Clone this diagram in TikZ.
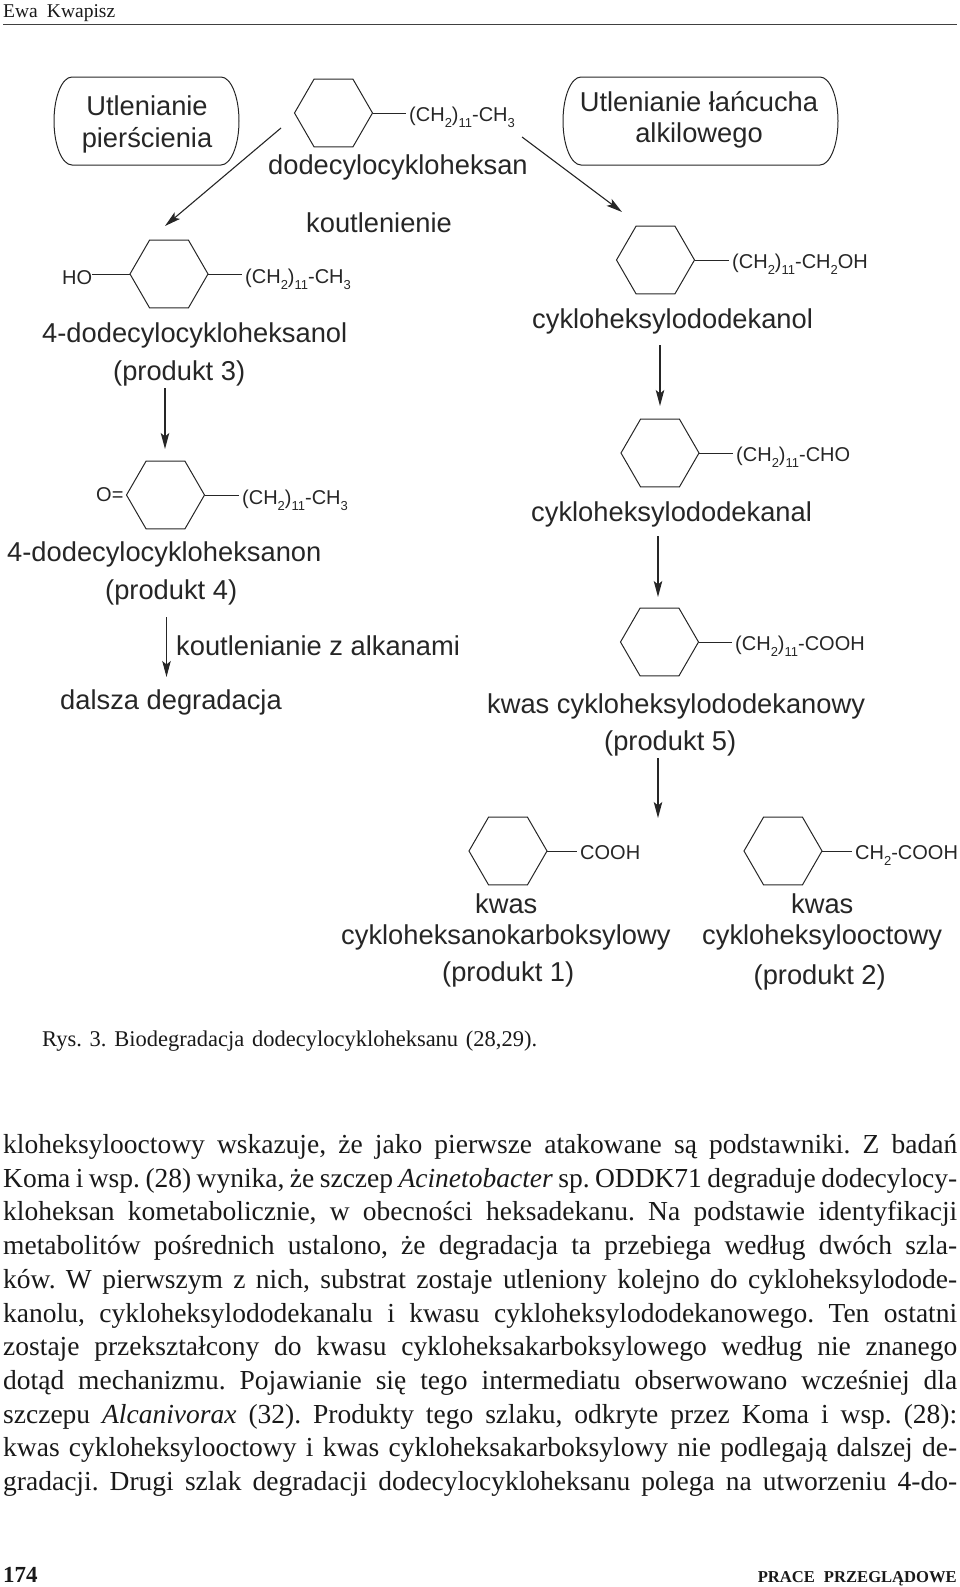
\documentclass[tikz,border=0pt]{standalone}
\usepackage{fontspec}
\setmainfont{Liberation Sans}
\newfontfamily\serifrm{Liberation Serif}
\usetikzlibrary{arrows.meta,shapes.geometric}
\newcommand{\indeks}[1]{\raisebox{-6.5pt}{\fontsize{13}{13}\selectfont #1}}
\begin{document}
\begin{tikzpicture}[x=1pt,y=-1pt]
\tikzset{hexa/.style={draw, regular polygon, regular polygon sides=6, minimum size=78pt, inner sep=0pt, outer sep=0pt, line width=1pt, color=black!85},
wzor/.style={anchor=base west, inner sep=0pt, color=black!85, font=\fontsize{20}{24}\selectfont},
opis/.style={anchor=base west, inner sep=0pt, color=black!85, font=\fontsize{27.3}{32}\selectfont},
tytul/.style={align=center, inner sep=0pt, color=black!85, font=\fontsize{27.3}{32}\selectfont},
kapsula/.style={line width=1pt, color=black!85},
wiazanie/.style={line width=1pt, color=black!85},
grot/.style={line width=1.1pt, color=black!85, -{Stealth[length=16pt,width=8.5pt,inset=3.5pt]}},
druk/.style={anchor=base west, inner sep=0pt, color=black!90}}
\useasboundingbox (0,0) rectangle (960,1587);
\node[druk, font=\serifrm\fontsize{19.5}{24}\selectfont] (Naglowek) at (3,17.5) {\makebox[112pt][s]{Ewa\hspace{6pt plus 1fil}Kwapisz}};
\coordinate (R1) at (3,24.5);
\coordinate (R2) at (957,24.5);
\draw[line width=1.6pt, color=black!75] (R1) -- (R2);
\draw[kapsula] (146.5,77) -- ++(74.5,0) arc[start angle=90, end angle=0, x radius=18pt, y radius=44pt] arc[start angle=0, end angle=-90, x radius=18pt, y radius=44pt] -- ++(-149,0) arc[start angle=-90, end angle=-180, x radius=18pt, y radius=44pt] arc[start angle=180, end angle=90, x radius=18pt, y radius=44pt] -- cycle;
\draw[kapsula] (700.5,77) -- ++(119.5,0) arc[start angle=90, end angle=0, x radius=18pt, y radius=44pt] arc[start angle=0, end angle=-90, x radius=18pt, y radius=44pt] -- ++(-239,0) arc[start angle=-90, end angle=-180, x radius=18pt, y radius=44pt] arc[start angle=180, end angle=90, x radius=18pt, y radius=44pt] -- cycle;
\node[tytul] (B1) at (147,124) {Utlenianie\\pierścienia};
\node[tytul] (B2) at (699,119.5) {Utlenianie łańcucha\\[-1pt]alkilowego};
\node[hexa] (H0) at (333.5,113) {};
\node[hexa] (H1) at (169,274) {};
\node[hexa] (H2) at (165.5,495) {};
\node[hexa] (H3) at (655.5,260) {};
\node[hexa] (H4) at (660,453) {};
\node[hexa] (H5) at (659.5,642) {};
\node[hexa] (H6) at (508,851) {};
\node[hexa] (H7) at (783,851) {};
\node[wzor] (F0) at (409,121) {(CH\indeks{2})\indeks{11}-CH\indeks{3}};
\node[wzor] (F1) at (245,283) {(CH\indeks{2})\indeks{11}-CH\indeks{3}};
\node[wzor] (F2) at (242,504) {(CH\indeks{2})\indeks{11}-CH\indeks{3}};
\node[wzor] (F3) at (732,268) {(CH\indeks{2})\indeks{11}-CH\indeks{2}OH};
\node[wzor] (F4) at (736,461) {(CH\indeks{2})\indeks{11}-CHO};
\node[wzor] (F5) at (735,650) {(CH\indeks{2})\indeks{11}-COOH};
\node[wzor] (F6) at (580,859) {COOH};
\node[wzor] (F7) at (855,859) {CH\indeks{2}-COOH};
\node[wzor] (HO) at (62,284) {HO};
\node[wzor] (OK) at (96,501) {O=};
\draw[wiazanie, shorten >=3pt] (H0.east) -- (F0.west |- H0.east);
\draw[wiazanie, shorten >=3pt] (H1.east) -- (F1.west |- H1.east);
\draw[wiazanie, shorten >=3pt] (H2.east) -- (F2.west |- H2.east);
\draw[wiazanie, shorten >=3pt] (H3.east) -- (F3.west |- H3.east);
\draw[wiazanie, shorten >=3pt] (H4.east) -- (F4.west |- H4.east);
\draw[wiazanie, shorten >=3pt] (H5.east) -- (F5.west |- H5.east);
\draw[wiazanie, shorten >=3pt] (H6.east) -- (F6.west |- H6.east);
\draw[wiazanie, shorten >=3pt] (H7.east) -- (F7.west |- H7.east);
\draw[wiazanie] (HO.east |- H1.west) -- (H1.west);
\node[opis] (N0) at (268,174) {dodecylocykloheksan};
\node[opis] (N1) at (306,232) {koutlenienie};
\node[opis] (N2) at (42,342) {4-dodecylocykloheksanol};
\node[opis] (P3) at (113,380) {(produkt 3)};
\node[opis] (N3) at (7,561) {4-dodecylocykloheksanon};
\node[opis] (P4) at (105,599) {(produkt 4)};
\node[opis] (N4) at (176,655) {koutlenianie z alkanami};
\node[opis] (N5) at (60,709) {dalsza degradacja};
\node[opis] (N6) at (532,328) {cykloheksylododekanol};
\node[opis] (N7) at (531,521) {cykloheksylododekanal};
\node[opis] (N8) at (487,713) {kwas cykloheksylododekanowy};
\node[opis] (P5) at (604,750) {(produkt 5)};
\node[opis] (N9) at (475,913) {kwas};
\node[opis] (N10) at (341,944) {cykloheksanokarboksylowy};
\node[opis] (P1) at (442,981) {(produkt 1)};
\node[opis] (N11) at (791,913) {kwas};
\node[opis] (N12) at (702,944) {cykloheksylooctowy};
\node[opis] (P2) at (753.5,984) {(produkt 2)};
\coordinate (A1) at (281,128);
\coordinate (A2) at (165,226);
\coordinate (A3) at (522,137);
\coordinate (A4) at (622,212);
\coordinate (A5) at (165,388);
\coordinate (A6) at (165,449);
\coordinate (A7) at (166.5,617);
\coordinate (A8) at (166.5,677);
\coordinate (A9) at (660,345);
\coordinate (A10) at (660,406);
\coordinate (A11) at (658,536);
\coordinate (A12) at (658,597);
\coordinate (A13) at (658,758);
\coordinate (A14) at (658,818);
\draw[grot] (A1) -- (A2);
\draw[grot] (A3) -- (A4);
\draw[grot] (A5) -- (A6);
\draw[grot] (A7) -- (A8);
\draw[grot] (A9) -- (A10);
\draw[grot] (A11) -- (A12);
\draw[grot] (A13) -- (A14);
\node[druk, font=\serifrm\fontsize{22.5}{27}\selectfont] (Rys) at (42,1046) {\makebox[495pt][s]{Rys.\hfil 3.\hfil Biodegradacja\hfil dodecylocykloheksanu\hfil (28,29).}};
\node[anchor=north west, inner sep=0pt, text width=954pt, align=justify, color=black!90, font=\serifrm\fontsize{27.5}{33.7}\selectfont] (Tekst) at (3,1134.2) {\sloppy\frenchspacing\hyphenpenalty=10000 kloheksylooctowy wskazuje, że jako pierwsze atakowane są podstawniki. Z badań\linebreak
Koma i wsp. (28) wynika, że szczep \textit{Acinetobacter} sp. ODDK71 degraduje dodecylocy-\linebreak
kloheksan kometabolicznie, w obecności heksadekanu. Na podstawie identyfikacji\linebreak
metabolitów pośrednich ustalono, że degradacja ta przebiega według dwóch szla-\linebreak
ków. W pierwszym z nich, substrat zostaje utleniony kolejno do cykloheksylodode-\linebreak
kanolu, cykloheksylododekanalu i kwasu cykloheksylododekanowego. Ten ostatni\linebreak
zostaje przekształcony do kwasu cykloheksakarboksylowego według nie znanego\linebreak
dotąd mechanizmu. Pojawianie się tego intermediatu obserwowano wcześniej dla\linebreak
szczepu \textit{Alcanivorax} (32). Produkty tego szlaku, odkryte przez Koma i wsp. (28):\linebreak
kwas cykloheksylooctowy i kwas cykloheksakarboksylowy nie podlegają dalszej de-\linebreak
gradacji. Drugi szlak degradacji dodecylocykloheksanu polega na utworzeniu 4-do-\linebreak};
\node[druk, font=\serifrm\bfseries\fontsize{23}{27}\selectfont] (Strona) at (3,1582) {174};
\node[druk, anchor=base east, font=\serifrm\bfseries\fontsize{16.6}{21}\selectfont] (Dzial) at (957,1582) {\makebox[199pt][s]{PRACE\hspace{6pt plus 1fil}PRZEGLĄDOWE}};
\end{tikzpicture}
\end{document}
